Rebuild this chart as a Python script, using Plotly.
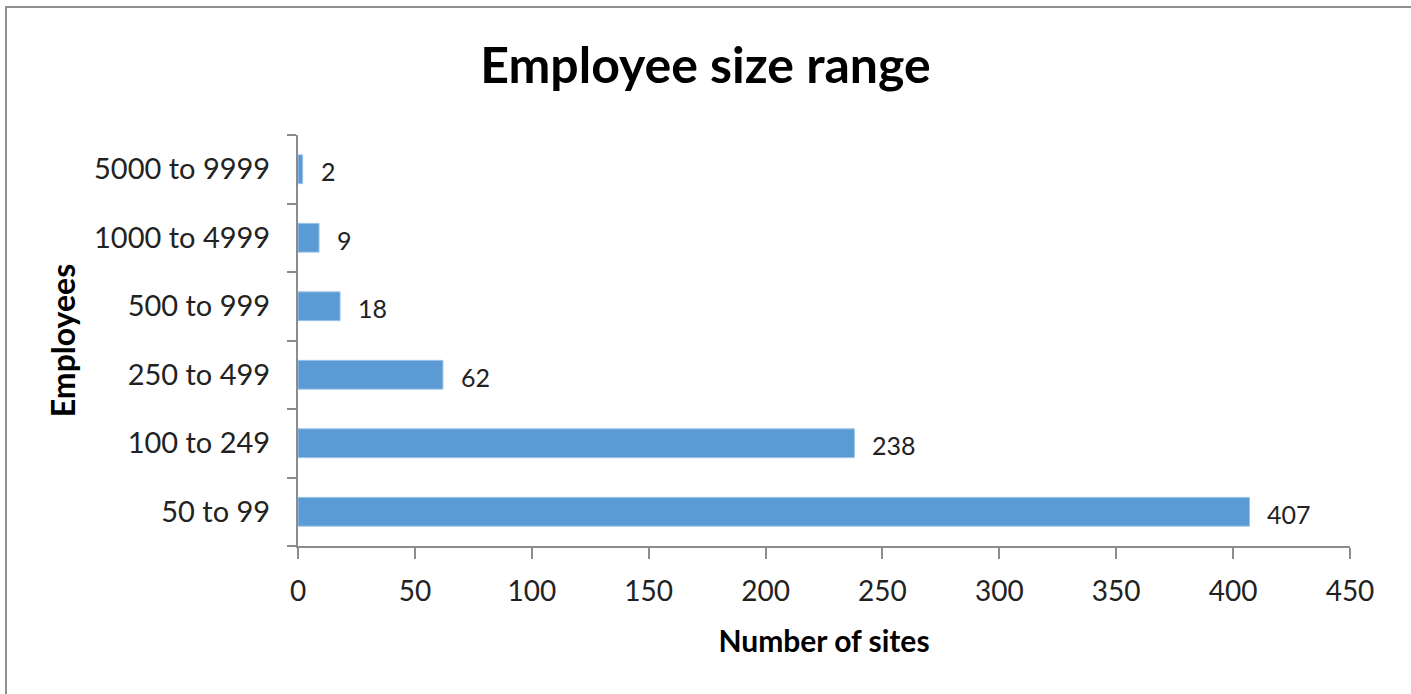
import plotly.graph_objects as go

# Employee size bands and number of sites in each
categories = ["50 to 99", "100 to 249", "250 to 499", "500 to 999", "1000 to 4999", "5000 to 9999"]
sites = [407, 238, 62, 18, 9, 2]
x_ticks = [0, 50, 100, 150, 200, 250, 300, 350, 400, 450]

FONT = "Lato"
AXIS_GREY = "#8c8c8c"
TEXT = "#222222"

fig = go.Figure(
    go.Bar(
        x=sites,
        y=categories,
        orientation="h",
        marker=dict(color="#5b9bd5", line=dict(color="#9dc3e6", width=1)),
        width=0.42,
        hoverinfo="x+y",
    )
)

# value labels sit a little to the right of each bar end
for cat, val in zip(categories, sites):
    fig.add_annotation(
        x=val,
        y=cat,
        text=str(val),
        xanchor="left",
        yanchor="middle",
        xshift=16,
        yshift=-2,
        showarrow=False,
        font=dict(family=FONT, size=25, color=TEXT),
    )

fig.update_layout(
    width=1411,
    height=694,
    margin=dict(l=298, r=61, t=135, b=148),
    paper_bgcolor="white",
    plot_bgcolor="white",
    showlegend=False,
    title=dict(
        text="<b>Employee size range</b>",
        x=0.5,
        xanchor="center",
        y=0.905,
        yanchor="middle",
        font=dict(family=FONT, size=50, color="#000000"),
    ),
    xaxis=dict(
        range=[0, 450],
        tickvals=x_ticks,
        ticktext=[str(t) for t in x_ticks],
        showgrid=False,
        zeroline=False,
        showline=True,
        linecolor=AXIS_GREY,
        linewidth=2,
        ticks="outside",
        ticklen=11,
        tickwidth=2,
        tickcolor=AXIS_GREY,
        ticklabelstandoff=8,
        tickfont=dict(family=FONT, size=28, color=TEXT),
        title=dict(text="<b>Number of sites</b>", font=dict(family=FONT, size=30, color="#000000"), standoff=25),
    ),
    yaxis=dict(
        categoryorder="array",
        categoryarray=categories,
        range=[-0.5, 5.5],
        showgrid=False,
        showline=True,
        linecolor=AXIS_GREY,
        linewidth=2,
        ticks="outside",
        ticklen=9,
        tickwidth=2,
        tickcolor=AXIS_GREY,
        tickson="boundaries",
        tickfont=dict(family=FONT, size=29, color=TEXT),
        ticklabelstandoff=20,
        title=dict(text="<b>Employees</b>", font=dict(family=FONT, size=32, color="#000000"), standoff=9),
    ),
    shapes=[
        dict(
            type="rect",
            xref="paper",
            yref="paper",
            x0=-292 / 1052,
            x1=1.2,
            y0=-0.5,
            y1=1 + 128 / 411,
            line=dict(color="#8f8f8f", width=2),
            layer="below",
        )
    ],
)

fig.write_html("out.html")
